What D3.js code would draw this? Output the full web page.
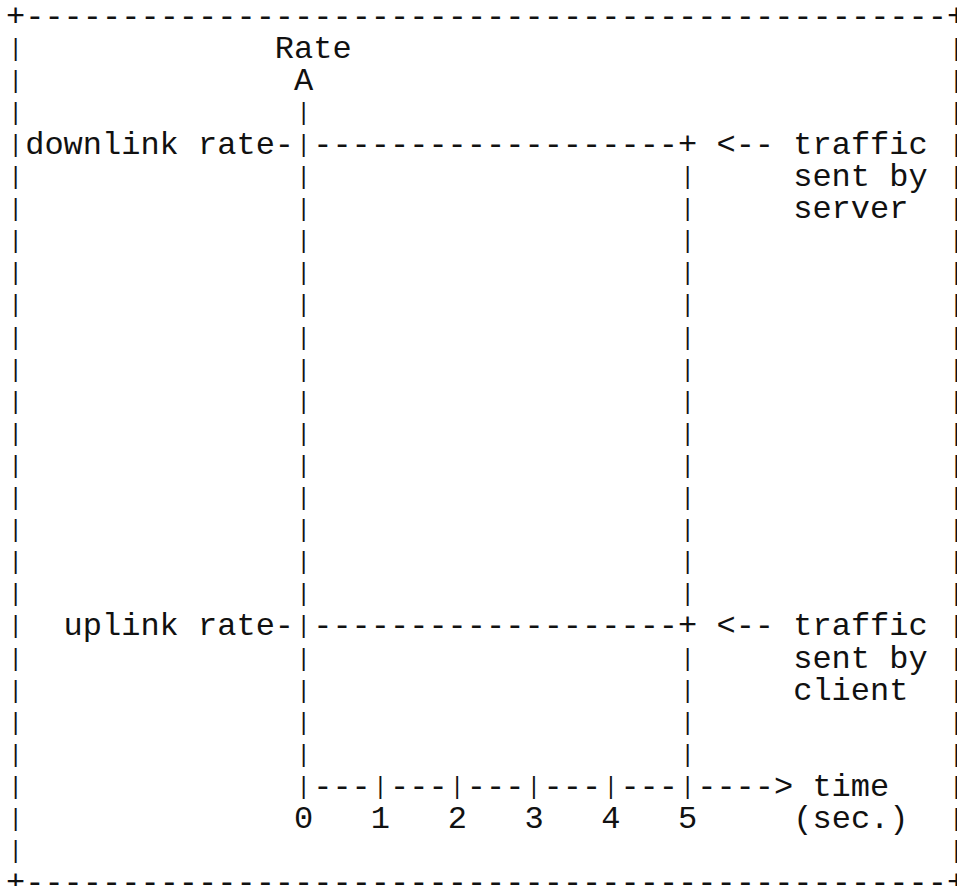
<!DOCTYPE html>
<html>
<head>
<meta charset="utf-8">
<script src="https://cdn.jsdelivr.net/npm/d3@7"></script>
<style>
  html, body { margin: 0; padding: 0; background: #fff; }
  svg { display: block; }
  .run { font-family: "Liberation Mono", "DejaVu Sans Mono", monospace; font-size: 32px; fill: #111; white-space: pre; }
  .run.bar { font-size: 23px; }
</style>
</head>
<body>
<svg id="chart" width="957" height="886"></svg>
<script>
// Data
// ------------------------------
var rateNames = ['downlink rate', 'uplink rate'];
var rateValues = [4, 1];          // relative rate, uplink is about 1/4 of downlink
var trafficLabels = [
  ['traffic', 'sent by', 'server'],
  ['traffic', 'sent by', 'client']
];
var timeTicks = [0, 1, 2, 3, 4, 5];
var trafficEnd = 5;               // seconds
var yTitle = 'Rate';
var xTitle = ['time', '(sec.)'];

// Character grid
// ------------------------------
var nCols = 50, nRows = 28;
var charW = 19.2, lineH = 32.1;

var grid = d3.range(nRows).map(function() {
  return d3.range(nCols).map(function() { return ' '; });
});

function put(r, c, str) {
  for (var i = 0; i < str.length; i++) {
    if (c + i >= 0 && c + i < nCols) grid[r][c + i] = str[i];
  }
}

// time -> column, rate -> row (in character cells)
var timeCol = d3.scaleLinear().domain([0, d3.max(timeTicks)]).range([15, 35]);
var rateRow = d3.scaleLinear().domain([0, d3.max(rateValues)]).range([24, 4]);

// frame
var frame = '+' + d3.range(nCols - 2).map(function() { return '-'; }).join('') + '+';
put(0, 0, frame);
put(nRows - 1, 0, frame);
for (var r = 1; r < nRows - 1; r++) {
  put(r, 0, '|');
  put(r, nCols - 1, '|');
}

var axCol = Math.round(timeCol(0));
var axRow = Math.round(rateRow(0));
var topRow = Math.round(rateRow(d3.max(rateValues)));
var endCol = Math.round(timeCol(trafficEnd));

// y axis
put(topRow - 3, axCol - Math.floor((yTitle.length - 1) / 2), yTitle);
put(topRow - 2, axCol, 'A');
for (var r = topRow - 1; r <= axRow; r++) put(r, axCol, '|');

// end of traffic (vertical)
for (var r = topRow + 1; r < axRow; r++) put(r, endCol, '|');

// rate levels
rateValues.forEach(function(v, i) {
  var row = Math.round(rateRow(v));
  put(row, axCol - rateNames[i].length - 1, rateNames[i] + '-');
  for (var c = axCol + 1; c < endCol; c++) put(row, c, '-');
  put(row, endCol, '+');
  put(row, endCol + 2, '<--');
  trafficLabels[i].forEach(function(t, j) {
    put(row + j, endCol + 6, t);
  });
});

// x axis
for (var c = axCol; c <= endCol + 4; c++) put(axRow, c, '-');
timeTicks.forEach(function(t) {
  var c = Math.round(timeCol(t));
  put(axRow, c, '|');
  put(axRow + 1, c, String(t));
});
put(axRow, endCol + 5, '>');
put(axRow, endCol + 7, xTitle[0]);
put(axRow + 1, endCol + 6, xTitle[1]);

// split rows into runs of text; '|' gets its own run
var runs = [];
grid.forEach(function(cells, r) {
  var line = cells.join('');
  var re = /\||[^|]+/g, m;
  while ((m = re.exec(line)) !== null) {
    var s = m[0];
    if (s === '|') {
      runs.push({ row: r, col: m.index, text: s, bar: true });
      continue;
    }
    var lead = s.length - s.replace(/^ +/, '').length;
    var t = s.trim();
    if (t.length) runs.push({ row: r, col: m.index + lead, text: t, bar: false });
  }
});

// Draw
// ------------------------------
var colX = d3.scaleLinear().domain([0, 1]).range([6, 6 + charW]);
var rowY = d3.scaleLinear().domain([0, 1]).range([25.5, 25.5 + lineH]);

var svg = d3.select('#chart');

svg.selectAll('text.run')
  .data(runs)
  .join('text')
  .attr('class', function(d) { return d.bar ? 'run bar' : 'run'; })
  .attr('xml:space', 'preserve')
  .attr('text-anchor', function(d) { return d.bar ? 'middle' : 'start'; })
  .attr('x', function(d) { return d.bar ? colX(d.col + 0.5) : colX(d.col); })
  .attr('y', function(d) { return d.bar ? rowY(d.row) - 2 : rowY(d.row); })
  .text(function(d) { return d.text; });
</script>
</body>
</html>
